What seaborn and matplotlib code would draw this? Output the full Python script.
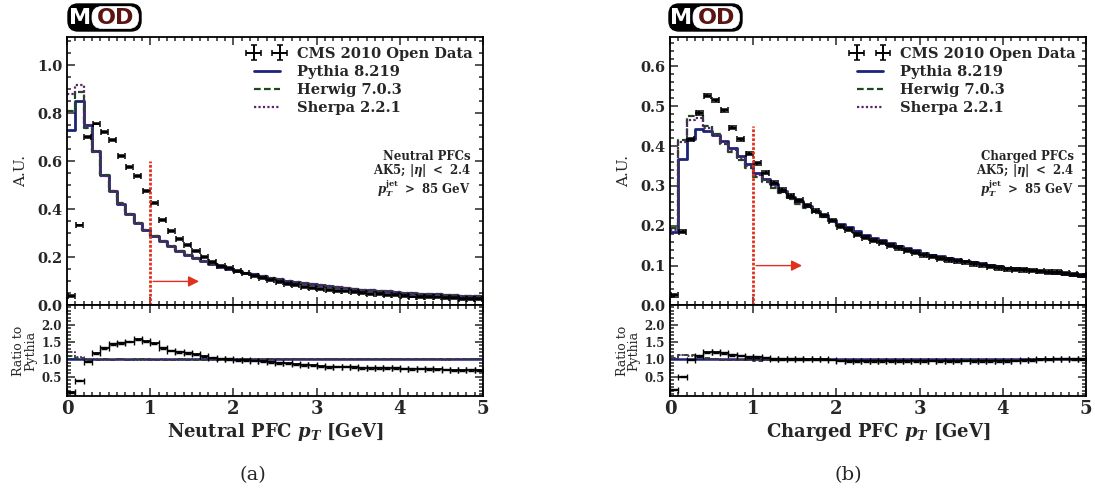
import numpy as np
import matplotlib
matplotlib.use("Agg")
import matplotlib.pyplot as plt
import seaborn as sns
from matplotlib.ticker import MultipleLocator, FixedLocator
from matplotlib.patches import FancyBboxPatch

# ---------------- data (50 bins of 0.1 GeV, 0..5 GeV) ----------------
bin_lo, bin_hi, n_bins = 0.0, 5.0, 50

neutral_pythia = [0.73, 0.85, 0.75, 0.645, 0.545, 0.478, 0.423, 0.381, 0.343, 0.315,
                  0.291, 0.268, 0.247, 0.228, 0.212, 0.198, 0.185, 0.173, 0.162, 0.152,
                  0.145, 0.137, 0.129, 0.122, 0.115, 0.109, 0.103, 0.098, 0.093, 0.088,
                  0.084, 0.080, 0.076, 0.073, 0.070, 0.066, 0.064, 0.061, 0.058, 0.056,
                  0.053, 0.051, 0.049, 0.048, 0.046, 0.044, 0.042, 0.041, 0.039, 0.038]
neutral_herwig = [0.81, 0.89, 0.74, 0.64, 0.545, 0.475, 0.425, 0.38, 0.345, 0.315,
                  0.29, 0.267, 0.246, 0.228, 0.211, 0.197, 0.184, 0.173, 0.161, 0.152,
                  0.144, 0.137, 0.128, 0.121, 0.115, 0.109, 0.103, 0.098, 0.093, 0.089,
                  0.084, 0.081, 0.076, 0.073, 0.070, 0.066, 0.064, 0.061, 0.058, 0.056,
                  0.053, 0.051, 0.049, 0.048, 0.046, 0.044, 0.042, 0.041, 0.039, 0.038]
neutral_sherpa = [0.88, 0.92, 0.75, 0.645, 0.54, 0.476, 0.422, 0.38, 0.342, 0.314,
                  0.29, 0.268, 0.246, 0.227, 0.212, 0.198, 0.185, 0.172, 0.162, 0.152,
                  0.145, 0.137, 0.129, 0.122, 0.116, 0.109, 0.103, 0.098, 0.094, 0.088,
                  0.084, 0.080, 0.076, 0.073, 0.070, 0.066, 0.064, 0.061, 0.058, 0.056,
                  0.053, 0.051, 0.049, 0.048, 0.046, 0.043, 0.042, 0.041, 0.039, 0.038]
neutral_data = [0.040, 0.333, 0.703, 0.758, 0.723, 0.689, 0.624, 0.575, 0.540, 0.478,
                0.425, 0.355, 0.310, 0.276, 0.250, 0.226, 0.202, 0.182, 0.165, 0.154,
                0.143, 0.133, 0.124, 0.115, 0.107, 0.098, 0.091, 0.084, 0.078, 0.073,
                0.067, 0.063, 0.060, 0.058, 0.055, 0.050, 0.048, 0.046, 0.044, 0.042,
                0.039, 0.037, 0.036, 0.035, 0.033, 0.031, 0.029, 0.028, 0.027, 0.026]

charged_pythia = [0.185, 0.368, 0.418, 0.442, 0.437, 0.427, 0.412, 0.395, 0.376, 0.356,
                  0.333, 0.318, 0.304, 0.288, 0.272, 0.262, 0.250, 0.238, 0.226, 0.214,
                  0.205, 0.198, 0.186, 0.178, 0.170, 0.164, 0.157, 0.150, 0.143, 0.138,
                  0.132, 0.127, 0.123, 0.119, 0.116, 0.112, 0.109, 0.106, 0.102, 0.099,
                  0.095, 0.093, 0.091, 0.088, 0.086, 0.084, 0.082, 0.079, 0.077, 0.075]
charged_herwig = [0.195, 0.415, 0.476, 0.482, 0.45, 0.43, 0.405, 0.385, 0.365, 0.345,
                  0.322, 0.31, 0.296, 0.282, 0.267, 0.255, 0.244, 0.233, 0.222, 0.211,
                  0.2, 0.19, 0.18, 0.172, 0.165, 0.159, 0.152, 0.146, 0.139, 0.134,
                  0.128, 0.123, 0.119, 0.115, 0.112, 0.109, 0.106, 0.103, 0.099, 0.096,
                  0.093, 0.091, 0.089, 0.087, 0.086, 0.084, 0.083, 0.080, 0.078, 0.075]
charged_sherpa = [0.19, 0.41, 0.465, 0.47, 0.445, 0.428, 0.408, 0.39, 0.37, 0.35,
                  0.328, 0.314, 0.3, 0.285, 0.27, 0.258, 0.247, 0.236, 0.224, 0.212,
                  0.202, 0.193, 0.182, 0.174, 0.167, 0.161, 0.154, 0.147, 0.141, 0.135,
                  0.13, 0.125, 0.121, 0.117, 0.114, 0.11, 0.107, 0.104, 0.1, 0.097,
                  0.094, 0.092, 0.09, 0.088, 0.086, 0.084, 0.083, 0.080, 0.078, 0.075]
charged_data = [0.025, 0.185, 0.417, 0.483, 0.527, 0.515, 0.49, 0.446, 0.417, 0.381,
                0.357, 0.333, 0.308, 0.29, 0.275, 0.264, 0.251, 0.238, 0.226, 0.213,
                0.198, 0.19, 0.178, 0.17, 0.163, 0.157, 0.15, 0.144, 0.137, 0.132,
                0.126, 0.122, 0.117, 0.114, 0.111, 0.108, 0.104, 0.101, 0.097, 0.094,
                0.091, 0.09, 0.089, 0.087, 0.086, 0.084, 0.084, 0.081, 0.078, 0.076]

legend_labels = ["CMS 2010 Open Data", "Pythia 8.219", "Herwig 7.0.3", "Sherpa 2.2.1"]
panel_titles = ["Neutral PFCs", "Charged PFCs"]
x_labels = [r"Neutral PFC $p_T$ [GeV]", r"Charged PFC $p_T$ [GeV]"]
captions = ["(a)", "(b)"]
cut_value = 1.0

# ---------------- style ----------------
sns.set_style("ticks")
plt.rcParams["font.family"] = ["DejaVu Serif"]
plt.rcParams["font.weight"] = "bold"
plt.rcParams["axes.labelweight"] = "bold"
plt.rcParams["mathtext.fontset"] = "custom"
plt.rcParams["mathtext.it"] = "DejaVu Serif:italic:bold"
plt.rcParams["mathtext.bf"] = "DejaVu Serif:italic:bold"
plt.rcParams["mathtext.rm"] = "DejaVu Serif:bold"

c_py = "#1c2478"
c_hw = "#1d4a1d"
c_sh = "#5b2468"
c_red = "#e0301e"

fig = plt.figure(figsize=(10.95, 4.95), dpi=100)
FIG_H_PX = 495.0

edges = np.linspace(bin_lo, bin_hi, n_bins + 1)
centers = 0.5 * (edges[:-1] + edges[1:])
half_w = 0.5 * (edges[1] - edges[0])


def step_vals(v):
    v = np.asarray(v, dtype=float)
    return np.append(v, v[-1])


def style_axis(ax):
    ax.tick_params(direction="in", which="both", top=True, right=True,
                   labelsize=10.5, width=1.1)
    ax.tick_params(which="major", length=6)
    ax.tick_params(which="minor", length=3)
    for s in ax.spines.values():
        s.set_linewidth(1.3)
        s.set_color("black")
    ax.xaxis.set_major_locator(MultipleLocator(1))
    ax.xaxis.set_minor_locator(MultipleLocator(0.1))
    ax.set_xlim(bin_lo, bin_hi)


def px_box(x, y_top, w, h, **kw):
    # rectangle given in pixels from top-left, drawn in inches
    return FancyBboxPatch((x / 100.0, (FIG_H_PX - y_top - h) / 100.0), w / 100.0, h / 100.0,
                          transform=fig.dpi_scale_trans, **kw)


def add_logo(x0, y0):
    fig.patches.append(px_box(x0, y0, 73, 27, boxstyle="round,pad=0,rounding_size=0.1",
                              fc="black", ec="black", lw=1.0))
    fig.patches.append(px_box(x0 + 24, y0 + 2.5, 46.5, 22,
                              boxstyle="round,pad=0,rounding_size=0.1",
                              fc="white", ec="white", lw=0.5))
    yc = 1 - (y0 + 14) / FIG_H_PX
    fig.text((x0 + 12) / 1095.0, yc, "M", color="white", fontsize=16,
             family="DejaVu Sans", weight="bold", ha="center", va="center")
    fig.text((x0 + 47.5) / 1095.0, yc, "OD", color="#5a1414", fontsize=16,
             family="DejaVu Sans", weight="bold", ha="center", va="center")


panels = [
    dict(x0=0.0612, pythia=neutral_pythia, herwig=neutral_herwig, sherpa=neutral_sherpa,
         data=neutral_data, ylim=1.12, ymaj=0.2, ymin=0.05, cut_top=0.6, arrow_y=0.1,
         logo=(68, 4), cap_x=0.231),
    dict(x0=0.6119, pythia=charged_pythia, herwig=charged_herwig, sherpa=charged_sherpa,
         data=charged_data, ylim=0.675, ymaj=0.1, ymin=0.02, cut_top=0.45, arrow_y=0.1,
         logo=(669, 4), cap_x=0.775),
]

for i, p in enumerate(panels):
    ax = fig.add_axes([p["x0"], 0.383, 0.38, 0.543])
    axr = fig.add_axes([p["x0"], 0.2, 0.38, 0.183])

    for vals, col, ls, lw, lab in [(p["pythia"], c_py, "-", 2.0, legend_labels[1]),
                                   (p["herwig"], c_hw, (0, (3, 1.5)), 1.6, legend_labels[2]),
                                   (p["sherpa"], c_sh, (0, (1, 1)), 1.6, legend_labels[3])]:
        sns.lineplot(x=edges, y=step_vals(vals), ax=ax, color=col, linestyle=ls,
                     linewidth=lw, drawstyle="steps-post", estimator=None, sort=False,
                     label=lab, legend=False)
    data = np.asarray(p["data"])
    ax.errorbar(centers, data, xerr=half_w * 0.85, yerr=np.full(n_bins, 0.004), fmt="none",
                ecolor="black", elinewidth=1.4, capsize=2.2, capthick=1.1,
                label=legend_labels[0])

    ax.plot([cut_value, cut_value], [0, p["cut_top"]], color=c_red, lw=2.0,
            linestyle=(0, (1, 0.6)))
    ax.annotate("", xy=(cut_value + 0.62, p["arrow_y"]), xytext=(cut_value, p["arrow_y"]),
                arrowprops=dict(arrowstyle="-|>", color=c_red, lw=1.0, mutation_scale=16))

    ax.set_ylim(0, p["ylim"])
    style_axis(ax)
    ax.yaxis.set_major_locator(MultipleLocator(p["ymaj"]))
    ax.yaxis.set_minor_locator(MultipleLocator(p["ymin"]))
    ax.tick_params(labelbottom=False)
    ax.set_ylabel("A.U.", fontsize=11, weight="normal", labelpad=6)
    ax.set_xlabel("")

    handles, labels = ax.get_legend_handles_labels()
    order = [labels.index(l) for l in legend_labels]
    ax.legend([handles[k] for k in order], [labels[k] for k in order], loc="upper right",
              frameon=False, fontsize=10.5, numpoints=2, handlelength=2.4,
              labelspacing=0.28, borderaxespad=0.3, handletextpad=0.9)

    ax.text(0.97, 0.555, panel_titles[i], transform=ax.transAxes, ha="right",
            va="center", fontsize=8.5)
    ax.text(0.97, 0.502, r"AK5; $|\eta|$ $\mathrm{<}$ 2.4", transform=ax.transAxes,
            ha="right", va="center", fontsize=8.5)
    ax.text(0.97, 0.435, r"$p_T^{\mathrm{jet}}$ $\mathrm{>}$ 85 GeV", transform=ax.transAxes,
            ha="right", va="center", fontsize=8.5)

    py = np.asarray(p["pythia"])
    for vals, col, ls, lw in [(py, c_py, "-", 1.8),
                              (p["herwig"], c_hw, (0, (3, 1.5)), 1.3),
                              (p["sherpa"], c_sh, (0, (1, 1)), 1.3)]:
        r = np.asarray(vals) / py
        sns.lineplot(x=edges, y=step_vals(r), ax=axr, color=col, linestyle=ls,
                     linewidth=lw, drawstyle="steps-post", estimator=None, sort=False,
                     legend=False)
    axr.errorbar(centers, data / py, xerr=half_w, yerr=np.full(n_bins, 0.02), fmt="none",
                 ecolor="black", elinewidth=1.3, capsize=2.0, capthick=1.0)
    axr.set_ylim(-0.05, 2.55)
    style_axis(axr)
    axr.yaxis.set_major_locator(FixedLocator([0.5, 1.0, 1.5, 2.0]))
    axr.yaxis.set_minor_locator(MultipleLocator(0.1))
    axr.tick_params(axis="y", labelsize=8.5)
    axr.tick_params(axis="x", labelsize=13, pad=3)
    axr.set_ylabel("Ratio to\nPythia", fontsize=9, weight="normal", labelpad=3,
                   linespacing=0.9)
    axr.set_xlabel(x_labels[i], fontsize=13, labelpad=2)
    axr.set_yticklabels(["0.5", "1.0", "1.5", "2.0"])

    fig.text(p["cap_x"], 0.04, captions[i], fontsize=14, weight="normal", ha="center",
             va="center")
    add_logo(*p["logo"])

fig.savefig("out.png", dpi=100)
